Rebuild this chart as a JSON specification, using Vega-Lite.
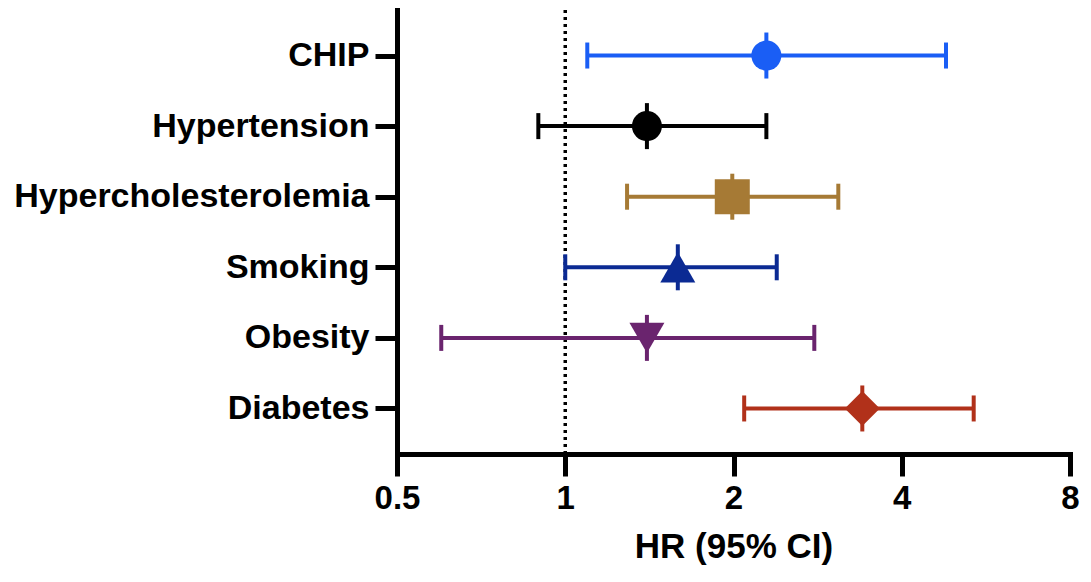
{
  "$schema": "https://vega.github.io/schema/vega-lite/v6.json",
  "width": 673,
  "height": 444,
  "autosize": {"type": "none"},
  "padding": {"left": 397, "top": 10, "right": 21, "bottom": 128},
  "background": "white",
  "config": {"view": {"stroke": null}, "font": "Liberation Sans"},
  "data": {
    "values": [
      {"factor": "CHIP", "hr": 2.29, "lo": 1.095, "hi": 4.8, "shape": "circle"},
      {"factor": "Hypertension", "hr": 1.4, "lo": 0.895, "hi": 2.29, "shape": "circle"},
      {"factor": "Hypercholesterolemia", "hr": 1.99, "lo": 1.29, "hi": 3.08, "shape": "square"},
      {"factor": "Smoking", "hr": 1.59, "lo": 1.0, "hi": 2.39, "shape": "triangle-up"},
      {"factor": "Obesity", "hr": 1.4, "lo": 0.6, "hi": 2.79, "shape": "triangle-down"},
      {"factor": "Diabetes", "hr": 3.4, "lo": 2.09, "hi": 5.38, "shape": "diamond"}
    ]
  },
  "encoding": {
    "y": {
      "field": "factor",
      "type": "nominal",
      "sort": null,
      "scale": {"type": "point", "padding": 0.645},
      "axis": {
        "title": null,
        "labelFont": "Liberation Sans",
        "labelFontSize": 34,
        "labelFontWeight": "bold",
        "labelColor": "black",
        "labelLimit": 0,
        "labelPadding": 6,
        "tickSize": 22,
        "tickWidth": 5,
        "tickColor": "black",
        "domainWidth": 5,
        "domainColor": "black",
        "domainCap": "square",
        "grid": false
      }
    },
    "color": {
      "field": "factor",
      "type": "nominal",
      "legend": null,
      "scale": {
        "domain": ["CHIP", "Hypertension", "Hypercholesterolemia", "Smoking", "Obesity", "Diabetes"],
        "range": ["#1a5ef5", "#000000", "#a67a35", "#0b2a93", "#6a246e", "#b1311a"]
      }
    }
  },
  "layer": [
    {
      "data": {"values": [{"ref": 1}]},
      "mark": {"type": "rule", "color": "black", "strokeWidth": 3.5, "strokeDash": [3, 4]},
      "encoding": {
        "x": {"field": "ref", "type": "quantitative"},
        "y": null,
        "color": null
      }
    },
    {
      "mark": {"type": "rule", "strokeWidth": 4},
      "encoding": {
        "x": {
          "field": "lo",
          "type": "quantitative",
          "scale": {"type": "log", "base": 2, "domain": [0.5, 8], "nice": false},
          "axis": {
            "values": [0.5, 1, 2, 4, 8],
            "format": "~g",
            "title": "HR (95% CI)",
            "titleFont": "Liberation Sans",
            "titleFontSize": 35,
            "titleFontWeight": "bold",
            "titleColor": "black",
            "titlePadding": 14,
            "labelFont": "Liberation Sans",
            "labelFontSize": 33,
            "labelFontWeight": "bold",
            "labelColor": "black",
            "labelFlush": false,
            "labelPadding": 6,
            "tickSize": 22,
            "tickWidth": 5,
            "tickColor": "black",
            "domainWidth": 5,
            "domainColor": "black",
            "domainCap": "square",
            "grid": false
          }
        },
        "x2": {"field": "hi"}
      }
    },
    {
      "mark": {"type": "tick", "size": 26, "thickness": 4, "opacity": 1},
      "encoding": {"x": {"field": "lo", "type": "quantitative"}}
    },
    {
      "mark": {"type": "tick", "size": 26, "thickness": 4, "opacity": 1},
      "encoding": {"x": {"field": "hi", "type": "quantitative"}}
    },
    {
      "mark": {"type": "tick", "size": 46, "thickness": 4, "opacity": 1},
      "encoding": {"x": {"field": "hr", "type": "quantitative"}}
    },
    {
      "transform": [{"filter": "datum.shape === 'circle'"}],
      "mark": {"type": "point", "shape": "circle", "filled": true, "opacity": 1, "size": 900},
      "encoding": {"x": {"field": "hr", "type": "quantitative"}}
    },
    {
      "transform": [{"filter": "datum.shape !== 'circle'"}],
      "mark": {"type": "point", "filled": true, "opacity": 1, "size": 1225},
      "encoding": {
        "x": {"field": "hr", "type": "quantitative"},
        "shape": {"field": "shape", "type": "nominal", "scale": null, "legend": null}
      }
    }
  ]
}
